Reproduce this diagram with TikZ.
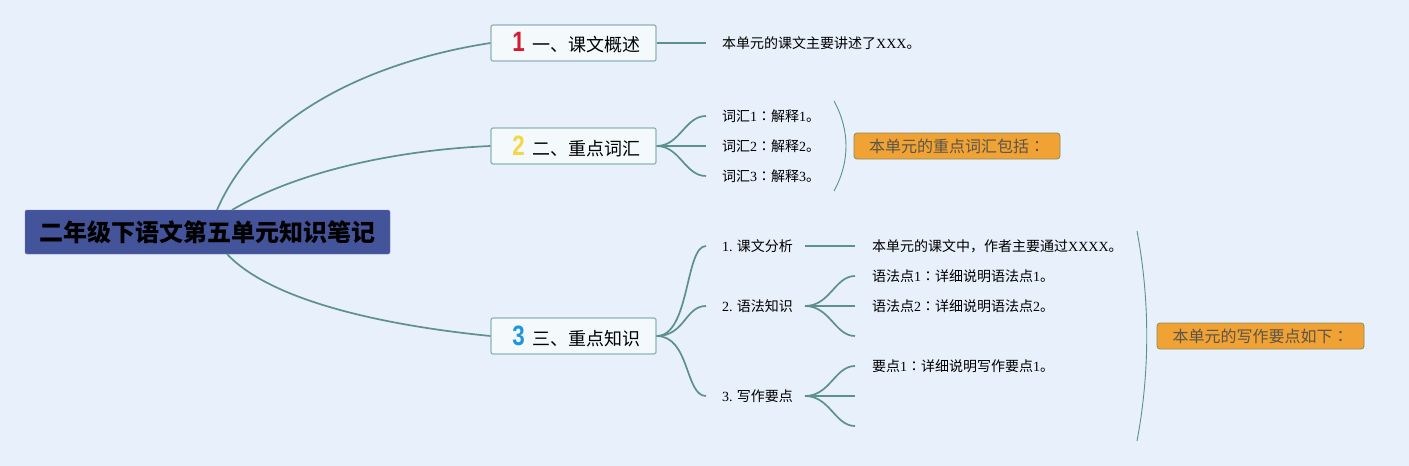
\documentclass[tikz,border=0pt]{standalone}
\usepackage{fontspec}
\setmainfont{Noto Sans CJK SC}
\newfontfamily\tcf{Noto Sans CJK TC}
\newfontfamily\lat{Liberation Serif}
\newfontfamily\numf{Liberation Sans}
\definecolor{bgc}{RGB}{232,240,251}
\definecolor{linec}{RGB}{92,145,140}
\definecolor{rootc}{RGB}{68,84,155}
\definecolor{topicb}{RGB}{140,180,182}
\definecolor{topicf}{RGB}{244,249,252}
\definecolor{orangef}{RGB}{240,162,52}
\definecolor{orangeb}{RGB}{140,140,90}
\definecolor{orangetxt}{RGB}{90,85,75}
\definecolor{nred}{RGB}{215,25,50}
\definecolor{nyel}{RGB}{245,215,70}
\definecolor{nblue}{RGB}{30,150,220}
\newcommand{\lt}[1]{{\lat #1}}
\newcommand{\cln}{{\tcf ：}}
\newcommand{\bignum}[2]{\textcolor{#1}{\scalebox{0.8}[1]{\numf\bfseries\fontsize{28}{28}\selectfont #2}}\hspace{8pt}}
\begin{document}
\begin{tikzpicture}[x=1pt,y=-1pt,
  conn/.style={draw=linec,line width=1.7pt},
  brk/.style={draw=linec,line width=0.9pt},
  rootbox/.style={fill=rootc,draw=rootc!80!white,rounded corners=2pt,minimum width=365pt,minimum height=44pt,inner sep=0pt,font=\fontsize{24}{27}\selectfont\bfseries,text=black},
  topicbox/.style={fill=topicf,draw=topicb,line width=1.2pt,rounded corners=2pt,minimum width=165pt,minimum height=36pt,inner sep=0pt,font=\fontsize{18}{21}\selectfont},
  leaf/.style={anchor=west,inner sep=0pt,font=\fontsize{14}{16}\selectfont},
  sumbox/.style={fill=orangef,draw=orangeb,line width=0.8pt,rounded corners=3pt,minimum height=26pt,inner sep=0pt,font=\fontsize{16}{18}\selectfont,text=orangetxt}]
\useasboundingbox[fill=bgc] (0,0) rectangle (1409,466);

% root
\node[rootbox] (root) at (207.5,232) {二年级下语文第五单元知识笔记};
\coordinate (r1) at (217,210);
\coordinate (r2) at (232,210);
\coordinate (r3) at (227,254);

% topics
\node[topicbox] (t1) at (573.5,43) {\hspace{6pt}\bignum{nred}{1}一、课文概述};
\node[topicbox] (t2) at (573.5,146) {\hspace{6pt}\bignum{nyel}{2}二、重点词汇};
\node[topicbox] (t3) at (573.5,336) {\hspace{6pt}\bignum{nblue}{3}三、重点知识};

\draw[conn] (r1) .. controls (260,110) and (380,60) .. (t1.west);
\draw[conn] (r2) .. controls (300,170) and (400,150) .. (t2.west);
\draw[conn] (r3) .. controls (270,300) and (380,325) .. (t3.west);

% topic 1
\coordinate (a1) at (706,43);
\draw[conn] (t1.east) -- (a1);
\node[leaf] (l1) at (722,43) {本单元的课文主要讲述了\lt{XXX}。};

% topic 2
\coordinate (b1) at (706,116);
\coordinate (b2) at (706,146);
\coordinate (b3) at (706,176);
\draw[conn] (t2.east) .. controls (680,146) and (685,116) .. (b1);
\draw[conn] (t2.east) -- (b2);
\draw[conn] (t2.east) .. controls (680,146) and (685,176) .. (b3);
\node[leaf] (v1) at (722,116) {词汇\lt{1}\cln 解释\lt{1}。};
\node[leaf] (v2) at (722,146) {词汇\lt{2}\cln 解释\lt{2}。};
\node[leaf] (v3) at (722,176) {词汇\lt{3}\cln 解释\lt{3}。};
\coordinate (k1) at (834,101);
\coordinate (k2) at (834,191);
\draw[brk] (k1) .. controls (850,130) and (850,162) .. (k2);
\node[sumbox,minimum width=206pt] (s1) at (957,146) {本单元的重点词汇包括\cln};

% topic 3
\node[leaf] (c1) at (722,246) {\lt{1.} 课文分析};
\node[leaf] (c2) at (722,306) {\lt{2.} 语法知识};
\node[leaf] (c3) at (722,396) {\lt{3.} 写作要点};
\coordinate (c1w) at (706,246);
\coordinate (c2w) at (706,306);
\coordinate (c3w) at (706,396);
\draw[conn] (t3.east) .. controls (690,336) and (685,246) .. (c1w);
\draw[conn] (t3.east) .. controls (685,336) and (685,306) .. (c2w);
\draw[conn] (t3.east) .. controls (690,336) and (685,396) .. (c3w);

\coordinate (c1e) at (805,246);
\coordinate (d1) at (855,246);
\draw[conn] (c1e) -- (d1);
\node[leaf] (e1) at (872,246) {本单元的课文中，作者主要通过\lt{XXXX}。};

\coordinate (c2e) at (805,306);
\coordinate (f1) at (855,276);
\coordinate (f2) at (855,306);
\coordinate (f3) at (855,336);
\draw[conn] (c2e) .. controls (830,306) and (835,276) .. (f1);
\draw[conn] (c2e) -- (f2);
\draw[conn] (c2e) .. controls (830,306) and (835,336) .. (f3);
\node[leaf] (g1) at (872,276) {语法点\lt{1}\cln 详细说明语法点\lt{1}。};
\node[leaf] (g2) at (872,306) {语法点\lt{2}\cln 详细说明语法点\lt{2}。};

\coordinate (c3e) at (805,396);
\coordinate (h1) at (855,366);
\coordinate (h2) at (855,396);
\coordinate (h3) at (855,426);
\draw[conn] (c3e) .. controls (830,396) and (835,366) .. (h1);
\draw[conn] (c3e) -- (h2);
\draw[conn] (c3e) .. controls (830,396) and (835,426) .. (h3);
\node[leaf] (i1) at (872,366) {要点\lt{1}\cln 详细说明写作要点\lt{1}。};

\coordinate (m1) at (1137,231);
\coordinate (m2) at (1137,441);
\draw[brk] (m1) .. controls (1150,300) and (1150,372) .. (m2);
\node[sumbox,minimum width=207pt] (s2) at (1260.5,336) {本单元的写作要点如下\cln};
\end{tikzpicture}
\end{document}
